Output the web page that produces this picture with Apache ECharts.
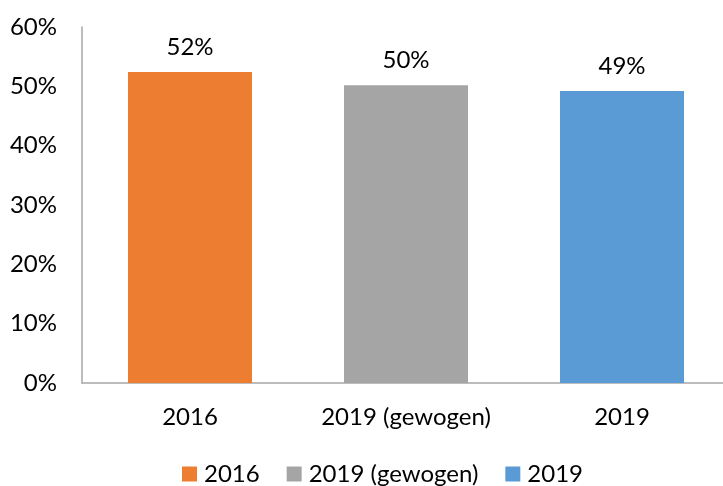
<!DOCTYPE html>
<html>
<head>
<meta charset="utf-8">
<script src="https://cdn.jsdelivr.net/npm/echarts@6/dist/echarts.min.js"></script>
<style>
html, body { margin: 0; padding: 0; background: #fff; }
#main { width: 723px; height: 486px; }
</style>
</head>
<body>
<div id="main"></div>
<script>
var categories = ['2016', '2019 (gewogen)', '2019'];
var values = [52.4, 50.2, 49.2];
var colors = ['#ED7D31', '#A5A5A5', '#5B9BD5'];
var yTicks = [0, 10, 20, 30, 40, 50, 60];

var font = 'Lato';

// one series per bar so the legend shows each colour
var series = categories.map(function (name, i) {
    var data = categories.map(function (c, j) { return j === i ? values[i] : null; });
    return {
        name: name,
        type: 'bar',
        stack: 'one',
        barWidth: 124,
        itemStyle: { color: colors[i] },
        label: {
            show: true,
            position: 'top',
            distance: 13,
            fontFamily: font,
            fontSize: 24,
            color: '#000',
            formatter: function (p) { return Math.round(p.value) + '%'; }
        },
        data: data
    };
});

var chart = echarts.init(document.getElementById('main'));
chart.setOption({
    animation: false,
    grid: { left: 82, top: 27, bottom: 103, width: 648, containLabel: false, outerBoundsMode: 'none' },
    legend: {
        top: 457,
        left: 177,
        itemWidth: 15,
        itemHeight: 15,
        itemGap: 27,
        icon: 'rect',
        textStyle: { fontFamily: font, fontSize: 24, color: '#000', padding: [0, 0, 0, 2] },
        data: categories
    },
    xAxis: {
        type: 'category',
        data: categories,
        axisLine: { lineStyle: { color: '#A6A6A6', width: 1.5 } },
        axisTick: { show: false },
        axisLabel: { interval: 0, fontFamily: font, fontSize: 24, color: '#000', margin: 22 }
    },
    yAxis: {
        type: 'value',
        min: yTicks[0],
        max: yTicks[yTicks.length - 1],
        interval: 10,
        axisLine: { show: true, lineStyle: { color: '#A6A6A6', width: 1.5 } },
        axisTick: { show: false },
        splitLine: { show: false },
        axisLabel: { fontFamily: font, fontSize: 24, color: '#000', margin: 25, formatter: '{value}%' }
    },
    series: series
});
</script>
</body>
</html>
